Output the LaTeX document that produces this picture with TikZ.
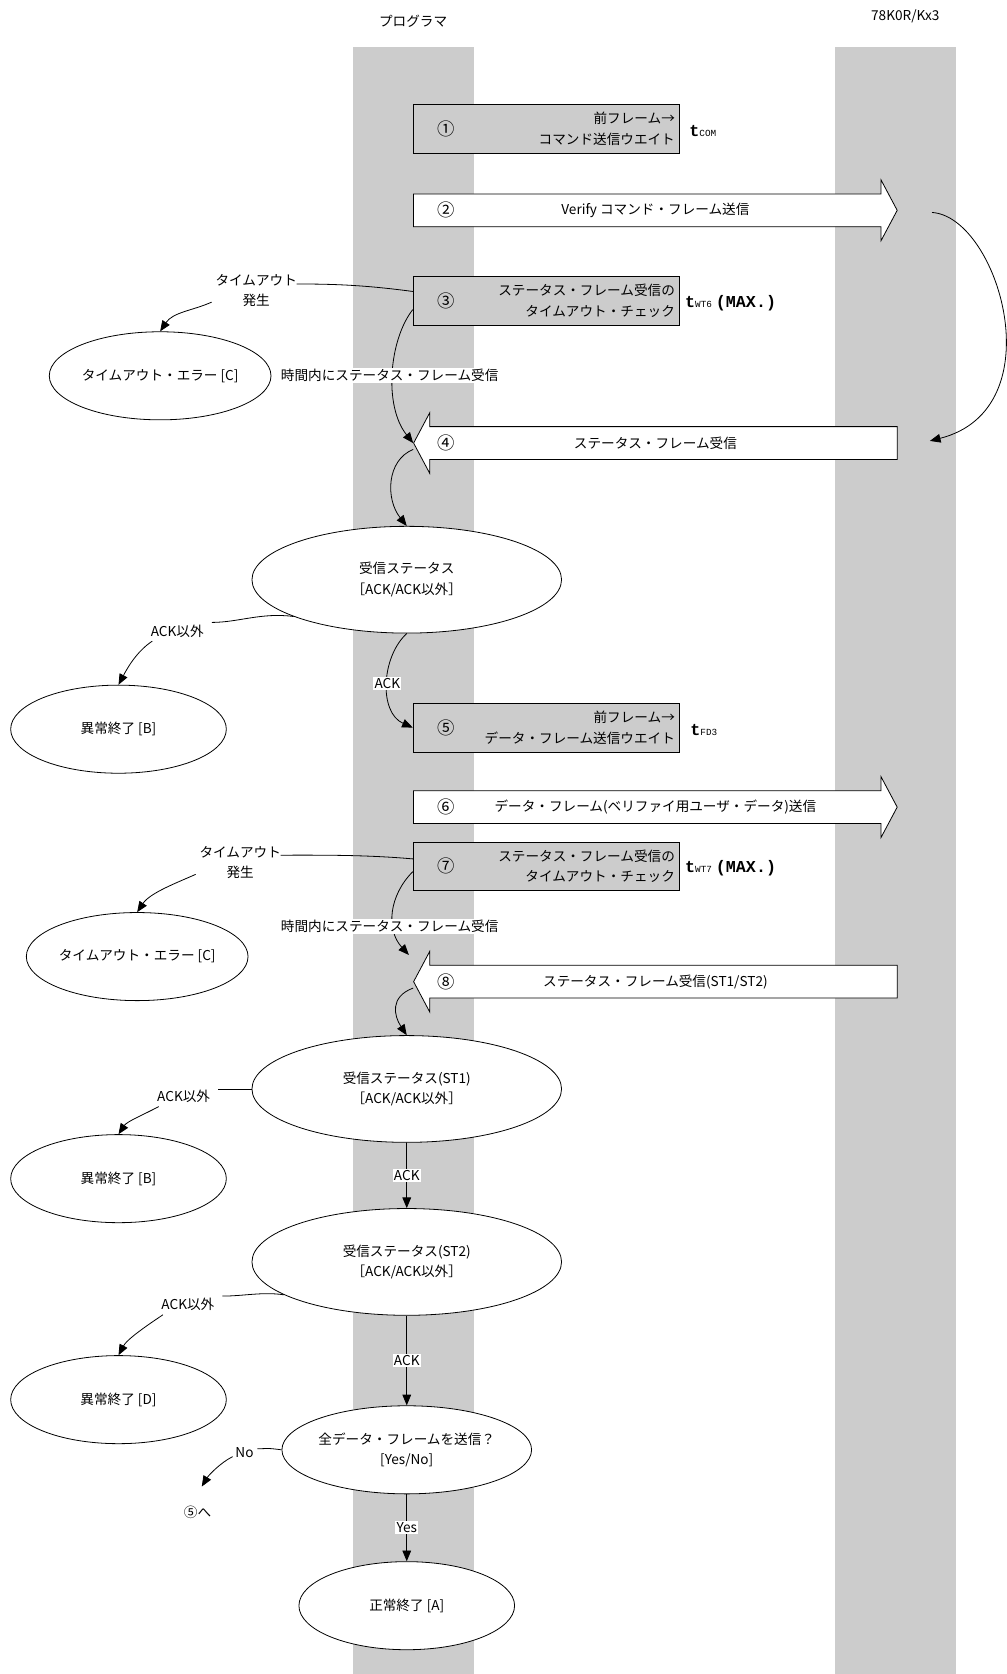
\documentclass[tikz,border=0pt]{standalone}
\usepackage{fontspec}
\setmainfont{Noto Sans CJK JP}
\newfontfamily\codefont{Liberation Mono}
\usetikzlibrary{shapes.geometric,shapes.arrows,arrows.meta,calc}

\begin{document}
\begin{tikzpicture}[
  x=0.8pt, y=-0.8pt, line width=0.6pt,
  font=\fontsize{10.2}{15.5}\selectfont,
  lane/.style={fill=black!20},
  waitbox/.style={
    rectangle, draw, fill=black!20, minimum width=199.2pt, minimum height=36.5pt,
    text width=193pt, align=right, inner sep=3pt
  },
  framearrow/.style={
    single arrow, draw, fill=white, inner xsep=0pt, inner ysep=12pt,
    minimum height=362.4pt, minimum width=44.8pt,
    single arrow head extend=10.4pt, single arrow tip angle=124
  },
  judge/.style={ellipse, draw, fill=white, align=center, inner sep=0pt,
    minimum width=232pt, minimum height=80pt},
  result/.style={ellipse, draw, fill=white, align=center, inner sep=0pt,
    minimum width=161.6pt, minimum height=66pt},
  stepno/.style={font=\fontsize{13}{15}\selectfont},
  flow/.style={-{Triangle[length=8pt,width=6.5pt]}},
  tag/.style={fill=white, inner sep=1pt},
  note/.style={align=center, inner sep=1pt},
  timing/.style={anchor=west, inner sep=0pt}
]
\useasboundingbox (0,0) rectangle (943,1568);
\fill[white] (0,0) rectangle (943,1568);

% Lanes
\fill[lane] (331,44) rectangle (444,1568);
\fill[lane] (782,44) rectangle (895,1568);
\node (prog) at (387,20) {プログラマ};
\node (mcu) at (848,15) {78K0R/Kx3};

% Program steps (waits and frames)
\node[waitbox] (w1) at (511.5,120.5) {前フレーム→\\コマンド送信ウエイト};
\node[stepno] (n1) at ($(w1.west)+(31,0)$) {①};
\node[timing] (tcom) at ($(w1.east)+(9,2)$)
  {{\codefont\bfseries\fontsize{12.5}{14}\selectfont t}{\codefont\fontsize{7}{8}\selectfont COM}};

\node[framearrow, anchor=tail] (f2) at (387,197) {};
\node[stepno] (n2) at ($(f2.tail)+(31,0)$) {②};
\node (l2) at ($(f2.tail)!0.5!(f2.tip)$) {Verify コマンド・フレーム送信};

\node[waitbox] (w3) at (511.5,282) {ステータス・フレーム受信の\\タイムアウト・チェック};
\node[stepno] (n3) at ($(w3.west)+(31,0)$) {③};
\node[timing] (twt6) at ($(w3.east)+(5,2)$)
  {{\codefont\bfseries\fontsize{12.5}{14}\selectfont t}{\codefont\fontsize{7}{8}\selectfont WT6}\hspace{3pt}%
   {\codefont\bfseries\fontsize{12.5}{14}\selectfont(MAX.)}};

\node[framearrow, shape border rotate=180, anchor=tip] (f4) at (387,415) {};
\node[stepno] (n4) at ($(f4.tip)+(31,0)$) {④};
\node (l4) at ($(f4.tip)!0.5!(f4.tail)$) {ステータス・フレーム受信};

\node[waitbox] (w5) at (511.5,681.5) {前フレーム→\\データ・フレーム送信ウエイト};
\node[stepno] (n5) at ($(w5.west)+(31,0)$) {⑤};
\node[timing] (tfd3) at ($(w5.east)+(10,2)$)
  {{\codefont\bfseries\fontsize{12.5}{14}\selectfont t}{\codefont\fontsize{7}{8}\selectfont FD3}};

\node[framearrow, anchor=tail] (f6) at (387,756) {};
\node[stepno] (n6) at ($(f6.tail)+(31,0)$) {⑥};
\node (l6) at ($(f6.tail)!0.5!(f6.tip)$) {データ・フレーム(ベリファイ用ユーザ・データ)送信};

\node[waitbox] (w7) at (511.5,811.5) {ステータス・フレーム受信の\\タイムアウト・チェック};
\node[stepno] (n7) at ($(w7.west)+(31,0)$) {⑦};
\node[timing] (twt7) at ($(w7.east)+(5,2)$)
  {{\codefont\bfseries\fontsize{12.5}{14}\selectfont t}{\codefont\fontsize{7}{8}\selectfont WT7}\hspace{3pt}%
   {\codefont\bfseries\fontsize{12.5}{14}\selectfont(MAX.)}};

\node[framearrow, shape border rotate=180, anchor=tip] (f8) at (387,919.5) {};
\node[stepno] (n8) at ($(f8.tip)+(31,0)$) {⑧};
\node (l8) at ($(f8.tip)!0.5!(f8.tail)$) {ステータス・フレーム受信(ST1/ST2)};

% Status checks and results
\node[result] (tmo1) at (150,352) {タイムアウト・エラー [C]};
\node[judge] (st0) at (381,543) {受信ステータス\\［ACK/ACK以外］};
\node[result] (err1) at (111,683) {異常終了 [B]};
\node[result] (tmo2) at (128.5,896) {タイムアウト・エラー [C]};
\node[judge] (st1) at (381,1020) {受信ステータス(ST1)\\［ACK/ACK以外］};
\node[result] (err2) at (111,1104) {異常終了 [B]};
\node[judge] (st2) at (381,1182) {受信ステータス(ST2)\\［ACK/ACK以外］};
\node[result] (err3) at (111,1311) {異常終了 [D]};
\node[result] (allsent) at (381,1358) {全データ・フレームを送信？\\{[Yes/No]}};
\node[result] (done) at (381,1504) {正常終了 [A]};

% Branch notes
\node[note] (to1) at (240,272) {タイムアウト\\発生};
\node[note] (to2) at (225,808) {タイムアウト\\発生};
\node[note] (ab1) at (166,591) {ACK以外};
\node[note] (ab2) at (172,1027) {ACK以外};
\node[note] (ab3) at (176,1222) {ACK以外};
\node[note] (no) at (229,1361) {No};
\node[note] (to5) at (185,1417) {⑤へ};

% Device reply
\coordinate (out2) at (873,199);
\coordinate (in4) at (871,413);
\draw[flow] (out2) .. controls +(62,4) and +(118,-30) .. (in4);

% Connectors, first status
\draw ($(w3.west)+(0,-9)$) .. controls +(-45,-6) and +(35,0) .. ($(to1.east)+(-2,-6)$);
\draw[flow] ($(to1.west)+(-2,11)$) .. controls +(-18,8) and +(12,-18) .. (tmo1.north);
\draw[flow] ($(w3.west)+(0,8)$) .. controls +(-22,28) and +(-28,-35) .. (f4.tip);
\node[tag] (in1) at (365,352) {時間内にステータス・フレーム受信};
\draw[flow] ($(f4.tip)+(0,6)$) .. controls +(-25,10) and +(-20,-25) .. (st0.north);
\draw (st0.198) .. controls +(-30,-4) and +(25,0) .. ($(ab1.east)+(6,-8)$);
\draw[flow] ($(ab1.south west)+(3,2)$) .. controls +(-15,10) and +(8,-15) .. (err1.north);
\draw[flow] (st0.south) .. controls +(-24,22) and +(-32,-14) .. (w5.west)
  node[tag, pos=.5] {ACK};

% Connectors, second status
\draw ($(w7.west)+(0,-7)$) .. controls +(-45,-4) and +(35,0) .. ($(to2.east)+(-2,-7)$);
\draw[flow] ($(to2.west)+(-2,11)$) .. controls +(-18,8) and +(12,-18) .. (tmo2.north);
\draw[flow] ($(w7.west)+(0,5)$) .. controls +(-22,22) and +(-22,-24) .. ($(f8.tip)+(-4,-25)$);
\node[tag] (in2) at (365,868) {時間内にステータス・フレーム受信};
\draw[flow] ($(f8.tip)+(0,6)$) .. controls +(-22,8) and +(-12,-18) .. (st1.north);
\draw (st1.west) .. controls +(-12,0) and +(10,0) .. ($(ab2.east)+(6,-7)$);
\draw[flow] ($(ab2.south west)+(3,2)$) .. controls +(-15,8) and +(8,-12) .. (err2.north);
\draw[flow] (st1.south) -- (st2.north) node[tag, midway] {ACK};
\draw (st2.195) .. controls +(-20,-3) and +(20,0) .. ($(ab3.east)+(6,-8)$);
\draw[flow] ($(ab3.south west)+(3,2)$) .. controls +(-15,10) and +(8,-15) .. (err3.north);
\draw[flow] (st2.south) -- (allsent.north) node[tag, midway] {ACK};
\draw (allsent.west) .. controls +(-15,-2) and +(10,0) .. ($(no.east)+(2,-4)$);
\draw[flow] ($(no.south west)+(-1,-3)$) .. controls +(-12,6) and +(6,-10) .. ($(to5.north)+(4,-17)$);
\draw[flow] (allsent.south) -- (done.north) node[tag, midway] {Yes};
\end{tikzpicture}
\end{document}
